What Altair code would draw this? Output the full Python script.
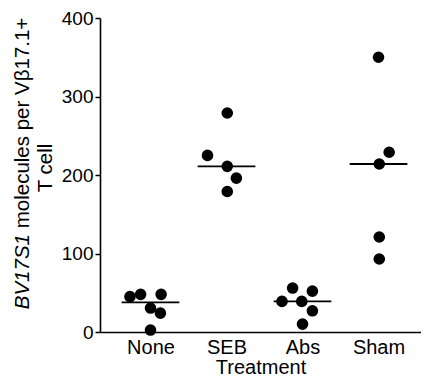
import json
import altair as alt
import pandas as pd

# ---- data ----
categories = ["None", "SEB", "Abs", "Sham"]
none_vals = [45, 48, 48, 30.5, 24, 2.5]
none_off = [-0.27, -0.13, 0.14, 0.0, 0.13, 0.0]
seb_vals = [279, 225, 211, 196, 179]
seb_off = [0.01, -0.25, 0.01, 0.13, 0.01]
abs_vals = [56, 52, 39, 39, 27, 10]
abs_off = [-0.13, 0.13, -0.27, -0.01, 0.13, 0.0]
sham_vals = [350, 229, 214, 121, 93]
sham_off = [0.0, 0.14, 0.01, 0.01, 0.01]
y_ticks = [0, 100, 200, 300, 400]

groups = [(none_vals, none_off), (seb_vals, seb_off), (abs_vals, abs_off), (sham_vals, sham_off)]
rows = []
for i, (vals, offs) in enumerate(groups):
    for v, o in zip(vals, offs):
        rows.append({"cat": categories[i], "idx": i + 1, "pos": i + 1 + o, "value": v})
df = pd.DataFrame(rows)

FONT = "Liberation Sans"
xscale = alt.Scale(domain=[0.3355, 4.559], nice=False, zero=False)
yscale = alt.Scale(domain=[0, 400], nice=False)
label_expr = json.dumps(categories) + "[datum.value - 1]"

x_axis = alt.Axis(values=[1, 2, 3, 4], labelExpr=label_expr, title="Treatment",
                  ticks=False, tickSize=0, grid=False, labelPadding=5, titlePadding=0,
                  labelFontSize=20, titleFontSize=20, titleFontWeight="normal",
                  labelFlush=False, labelOverlap=False)
y_axis = alt.Axis(values=y_ticks, title="", grid=False, tickSize=5, tickWidth=1.5,
                  labelPadding=2, labelFontSize=19)

points = alt.Chart(df).mark_circle(size=135, color="black", opacity=1).encode(
    x=alt.X("pos:Q", scale=xscale, axis=x_axis),
    y=alt.Y("value:Q", scale=yscale, axis=y_axis),
)

medians = alt.Chart(df).transform_aggregate(
    med="median(value)", groupby=["cat", "idx"]
).transform_calculate(
    x1="datum.idx - 0.38", x2="datum.idx + 0.38"
).mark_rule(color="black", strokeWidth=1.8).encode(
    x=alt.X("x1:Q", scale=xscale, axis=x_axis),
    x2="x2:Q",
    y=alt.Y("med:Q", scale=yscale, axis=y_axis),
)

tdf = pd.DataFrame({"t": [0]})
t1 = alt.Chart(tdf).mark_text(angle=270, align="right", baseline="alphabetic", fontStyle="italic",
                              fontSize=20.5, font=FONT, color="black").encode(
    x=alt.value(-71), y=alt.value(216), text=alt.value("BV17S1"))
t2 = alt.Chart(tdf).mark_text(angle=270, align="left", baseline="alphabetic",
                              fontSize=20.5, font=FONT, color="black").encode(
    x=alt.value(-71), y=alt.value(210.3), text=alt.value("molecules per Vβ17.1+"))
t3 = alt.Chart(tdf).mark_text(angle=270, align="center", baseline="alphabetic",
                              fontSize=20.5, font=FONT, color="black").encode(
    x=alt.value(-48), y=alt.value(150), text=alt.value("T cell"))

chart = alt.layer(points, medians, t1, t2, t3).properties(
    width=321, height=314,
    autosize=alt.AutoSizeParams(type="none"),
    padding={"left": 92, "top": 10, "right": 0, "bottom": 47},
).configure_view(stroke=None).configure_axis(
    domainColor="black", domainWidth=1.6, tickColor="black", labelColor="black",
    titleColor="black", labelFont=FONT, titleFont=FONT,
)

chart.save("out.html", embed_options={"renderer": "svg", "actions": False})
